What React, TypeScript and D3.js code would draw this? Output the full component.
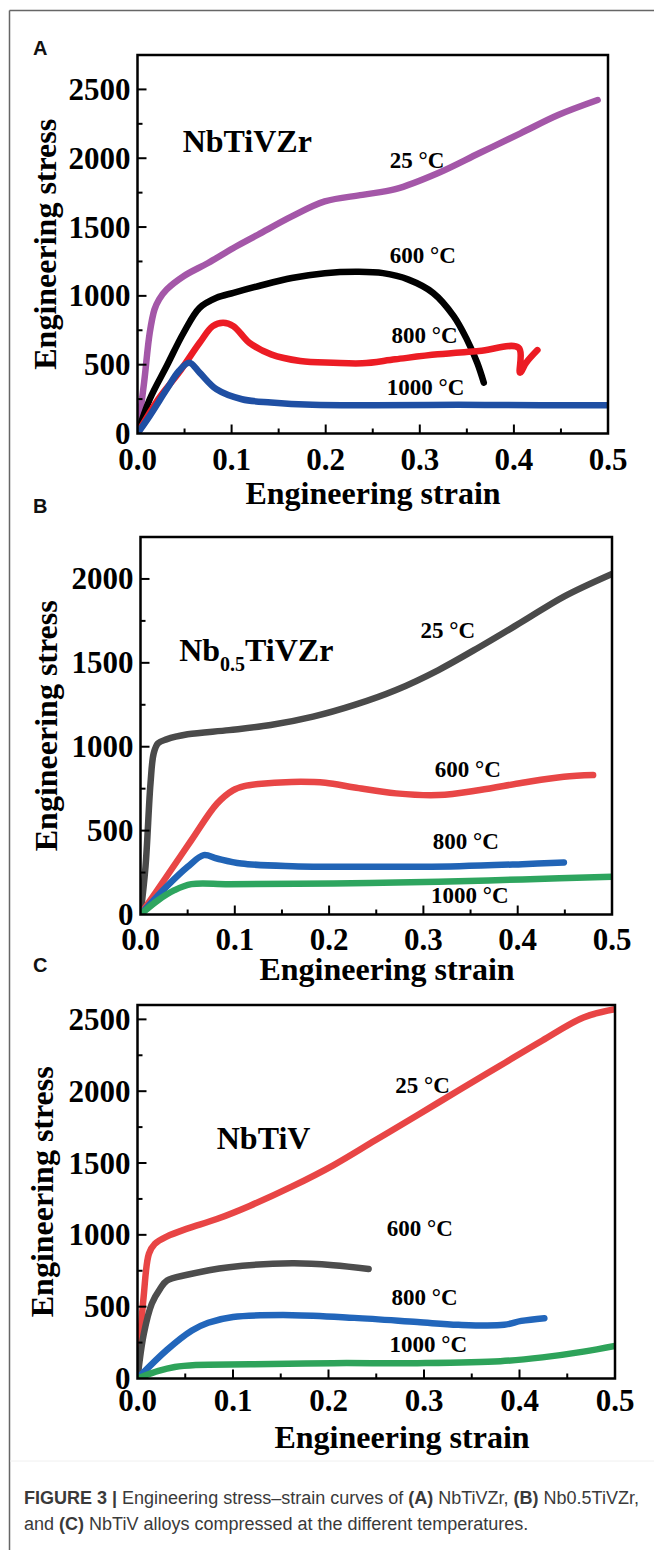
import React from "react";
import * as d3 from "d3";

// strain / stress pairs
const strainTicks = [0, 0.1, 0.2, 0.3, 0.4, 0.5];
const stressTicksA = [0, 500, 1000, 1500, 2000, 2500];
const stressTicksB = [0, 500, 1000, 1500, 2000];
const stressTicksC = [0, 500, 1000, 1500, 2000, 2500];
const temps = ["25 °C", "600 °C", "800 °C", "1000 °C"];

// (A) NbTiVZr
const a25 = [[0, 0], [0.007, 370], [0.013, 732], [0.018, 900], [0.023, 975], [0.031, 1046], [0.049, 1143], [0.075, 1239], [0.102, 1348], [0.128, 1444], [0.164, 1577], [0.199, 1686], [0.239, 1734], [0.274, 1775], [0.319, 1891], [0.363, 2036], [0.407, 2181], [0.447, 2314], [0.489, 2423]];
const a600 = [[0, 0], [0.013, 249], [0.031, 490], [0.049, 732], [0.066, 913], [0.084, 986], [0.102, 1022], [0.128, 1070], [0.164, 1130], [0.199, 1165], [0.235, 1175], [0.261, 1165], [0.288, 1118], [0.314, 1022], [0.336, 853], [0.35, 684], [0.361, 514], [0.368, 370]];
const a800 = [[0, 0], [0.022, 249], [0.044, 442], [0.066, 659], [0.08, 780], [0.091, 804], [0.102, 780], [0.119, 659], [0.142, 575], [0.173, 527], [0.208, 514], [0.239, 510], [0.274, 539], [0.319, 575], [0.363, 599], [0.405, 623], [0.4065, 442], [0.413, 514], [0.425, 606]];
const a1000 = [[0, 0], [0.013, 128], [0.031, 321], [0.044, 454], [0.055, 514], [0.066, 442], [0.084, 321], [0.111, 249], [0.142, 225], [0.186, 208], [0.252, 205], [0.341, 208], [0.429, 205], [0.5, 205]];

// (B) Nb0.5TiVZr
const b25 = [[0, 0], [0.0053, 284], [0.0106, 781], [0.014, 960], [0.0186, 1020], [0.0275, 1044], [0.05, 1074], [0.094, 1099], [0.138, 1129], [0.183, 1179], [0.227, 1249], [0.271, 1338], [0.316, 1457], [0.36, 1596], [0.405, 1746], [0.449, 1895], [0.5, 2030]];
const b600 = [[0, 0], [0.0275, 225], [0.054, 443], [0.081, 660], [0.098, 740], [0.11, 765], [0.125, 778], [0.16, 790], [0.196, 785], [0.227, 757], [0.271, 722], [0.316, 712], [0.36, 742], [0.405, 785], [0.449, 821], [0.48, 831]];
const b800 = [[0, 0], [0.0275, 165], [0.05, 284], [0.067, 354], [0.081, 334], [0.107, 304], [0.161, 288], [0.249, 284], [0.338, 288], [0.405, 300], [0.449, 310]];
const b1000 = [[0, 0], [0.0186, 85], [0.036, 145], [0.054, 181], [0.094, 181], [0.205, 185], [0.316, 195], [0.405, 209], [0.5, 225]];

// (C) NbTiV
const c25 = [[0, 0], [0.0065, 575], [0.012, 869], [0.018, 936], [0.031, 989], [0.052, 1043], [0.083, 1110], [0.118, 1203], [0.162, 1337], [0.205, 1484], [0.249, 1658], [0.293, 1832], [0.336, 2005], [0.38, 2179], [0.424, 2353], [0.467, 2513], [0.5, 2570]];
const c600 = [[0, 0], [0.0065, 307], [0.015, 521], [0.024, 628], [0.031, 682], [0.052, 722], [0.096, 775], [0.162, 802], [0.205, 789], [0.242, 762]];
const c800 = [[0, 0], [0.031, 200], [0.057, 334], [0.074, 388], [0.1, 428], [0.162, 441], [0.227, 422], [0.293, 393], [0.336, 374], [0.384, 374], [0.402, 401], [0.426, 420]];
const c1000 = [[0, 0], [0.022, 53], [0.039, 80], [0.061, 94], [0.118, 99], [0.205, 107], [0.293, 107], [0.38, 120], [0.424, 147], [0.467, 187], [0.5, 227]];

// where the temperature labels sit, in strain / stress units
const labelsA = [[0.268, 1929], [0.268, 1239], [0.27, 658], [0.265, 280]];
const labelsB = [[0.297, 1649], [0.312, 817], [0.31, 389], [0.308, 68]];
const labelsC = [[0.27, 1988], [0.261, 992], [0.266, 512], [0.264, 185]];

const serif = "'Liberation Serif', 'Times New Roman', serif";
const sans = "'Liberation Sans', Arial, sans-serif";

function Panel(props) {
  const { id, letter, letterY, box, yMax, yTicks, curves, colors, labels, alloy, alloyAt, tickBase, titleBase, titleX, yTitleX } = props;
  const [left, right, top, bottom] = box;
  const x = d3.scaleLinear().domain([0, 0.5]).range([left, right]);
  const y = d3.scaleLinear().domain([0, yMax]).range([bottom, top]);
  const line = d3
    .line()
    .x((d) => x(d[0]))
    .y((d) => y(d[1]))
    .curve(d3.curveCatmullRom.alpha(0.5));

  const xMinor = d3.range(1, 10).map((i) => i * 0.05);
  const yMinor = d3.range(1, Math.ceil(yMax / 250)).map((i) => i * 250).filter((v) => v < yMax);

  return (
    <g>
      <text x={33} y={letterY} fontFamily={sans} fontWeight="bold" fontSize={20} fill="#111">{letter}</text>
      <defs>
        <clipPath id={"clip" + id}>
          <rect x={left} y={top} width={right - left} height={bottom - top} />
        </clipPath>
      </defs>
      <g clipPath={`url(#clip${id})`}>
        {curves.map((c, i) => (
          <path key={i} d={line(c)} fill="none" stroke={colors[i]} strokeWidth={6.5} strokeLinecap="round" strokeLinejoin="round" />
        ))}
      </g>
      {/* ticks, pointing inward */}
      {xMinor.map((v, i) => (
        <line key={"xt" + i} x1={x(v)} x2={x(v)} y1={bottom} y2={bottom - (i % 2 === 1 ? 9 : 5)} stroke="#000" strokeWidth={2} />
      ))}
      {yMinor.map((v, i) => (
        <line key={"yt" + i} x1={left} x2={left + (v % 500 === 0 ? 9 : 5)} y1={y(v)} y2={y(v)} stroke="#000" strokeWidth={2} />
      ))}
      <rect x={left} y={top} width={right - left} height={bottom - top} fill="none" stroke="#000" strokeWidth={2.5} />
      {yTicks.map((v) => (
        <text key={"yl" + v} x={left - 7} y={y(v)} dy="0.34em" textAnchor="end" fontFamily={serif} fontWeight="bold" fontSize={31}>{v}</text>
      ))}
      {strainTicks.map((v) => (
        <text key={"xl" + v} x={x(v)} y={tickBase} textAnchor="middle" fontFamily={serif} fontWeight="bold" fontSize={31}>{v.toFixed(1)}</text>
      ))}
      <text x={titleX} y={titleBase} textAnchor="middle" fontFamily={serif} fontWeight="bold" fontSize={32}>Engineering strain</text>
      <text transform={`translate(${yTitleX},${(top + bottom) / 2}) rotate(-90)`} textAnchor="middle" fontFamily={serif} fontWeight="bold" fontSize={32}>Engineering stress</text>
      <text x={x(alloyAt[0])} y={y(alloyAt[1])} fontFamily={serif} fontWeight="bold" fontSize={32}>{alloy}</text>
      {labels.map((p, i) => (
        <text key={"tl" + i} x={x(p[0])} y={y(p[1])} fontFamily={serif} fontWeight="bold" fontSize={23}>{temps[i]}</text>
      ))}
    </g>
  );
}

export default function App() {
  return (
    <svg width={654} height={1550} style={{ position: "absolute", left: 0, top: 0, background: "#fff" }}>
      <rect width={654} height={1550} fill="#fff" />
      <line x1={9.5} y1={10.5} x2={654} y2={10.5} stroke="#666" strokeWidth={1.5} />
      <line x1={9.5} y1={10.5} x2={9.5} y2={1550} stroke="#666" strokeWidth={1.5} />
      <Panel
        id="A"
        letter="A"
        letterY={55}
        box={[137.5, 608, 55, 433.5]}
        yMax={2750}
        yTicks={stressTicksA}
        curves={[a25, a600, a800, a1000]}
        colors={["#a457a8", "#000000", "#ec1c24", "#1f4fa3"]}
        labels={labelsA}
        alloy="NbTiVZr"
        alloyAt={[0.048, 2045]}
        tickBase={470}
        titleBase={504}
        titleX={373}
        yTitleX={56}
      />
      <Panel
        id="B"
        letter="B"
        letterY={513}
        box={[140.5, 612, 537, 914.5]}
        yMax={2250}
        yTicks={stressTicksB}
        curves={[b25, b600, b800, b1000]}
        colors={["#4a4a4a", "#e84646", "#2164b6", "#2ea55f"]}
        labels={labelsB}
        alloy={
          <>
            Nb<tspan fontSize={20} dy={10}>0.5</tspan>
            <tspan dy={-10}>TiVZr</tspan>
          </>
        }
        alloyAt={[0.041, 1512]}
        tickBase={950}
        titleBase={980}
        titleX={387}
        yTitleX={57}
      />
      <Panel
        id="C"
        letter="C"
        letterY={972}
        box={[137.5, 615, 1005, 1378.5]}
        yMax={2600}
        yTicks={stressTicksC}
        curves={[c25, c600, c800, c1000]}
        colors={["#e84545", "#4d4d4d", "#2266bb", "#2ea35a"]}
        labels={labelsC}
        alloy="NbTiV"
        alloyAt={[0.083, 1598]}
        tickBase={1411}
        titleBase={1448}
        titleX={402}
        yTitleX={53}
      />
      <line x1={10} y1={1461} x2={654} y2={1461} stroke="#f0f0f0" strokeWidth={1} />
      <text x={24} y={1504} fontFamily={sans} fontSize={18} fill="#3a3a3a">
        <tspan fontWeight="bold">FIGURE 3 | </tspan>
        Engineering stress–strain curves of <tspan fontWeight="bold">(A)</tspan> NbTiVZr, <tspan fontWeight="bold">(B)</tspan> Nb0.5TiVZr,
      </text>
      <text x={24} y={1530} fontFamily={sans} fontSize={18} fill="#3a3a3a">
        and <tspan fontWeight="bold">(C)</tspan> NbTiV alloys compressed at the different temperatures.
      </text>
    </svg>
  );
}
